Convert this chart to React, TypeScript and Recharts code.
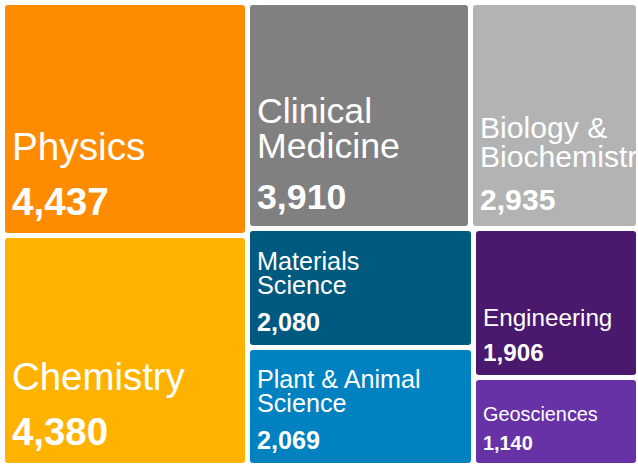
import React from "react"
import { Treemap } from "recharts"

const categories = [
  "Physics",
  "Chemistry",
  "Clinical Medicine",
  "Biology & Biochemistry",
  "Materials Science",
  "Plant & Animal Science",
  "Engineering",
  "Geosciences",
]
const values = [4437, 4380, 3910, 2935, 2080, 2069, 1906, 1140]
const colors = ["#ff8c00", "#ffb300", "#808080", "#b3b3b3", "#00597f", "#0082c1", "#4a196e", "#6632a6"]

const chartData = categories.map((name, i) => ({ name, size: values[i] }))

const FONT = '"Liberation Sans", Arial, sans-serif'
const GAP = 5

let ctx: CanvasRenderingContext2D | null = null
function textWidth(s: string, size: number) {
  if (!ctx) ctx = document.createElement("canvas").getContext("2d")
  if (!ctx) return s.length * size * 0.55
  ctx.font = `${size}px "Liberation Sans"`
  return ctx.measureText(s).width
}

function wrap(label: string, size: number, maxWidth: number) {
  const lines: string[] = []
  let line = ""
  label.split(" ").forEach((word) => {
    const next = line ? line + " " + word : word
    if (line && textWidth(next, size) > maxWidth) {
      lines.push(line)
      line = word
    } else {
      line = next
    }
  })
  if (line) lines.push(line)
  return lines
}

function CellContent(props: any) {
  const { x, y, width, height, depth, name } = props
  if (depth !== 1) return null
  const i = categories.indexOf(name)
  const value = values[i]
  const cx = x + GAP
  const cy = y + GAP
  const w = width - GAP
  const h = height - GAP
  // label size grows with the cell's value
  const fs = 0.97 * (13.75 + 0.0059 * value)
  const lines = wrap(name, fs, (w - 14) * 0.9)
  const valueY = cy + h - (8 + 0.25 * fs)
  const lastY = valueY - 1.44 * fs
  const clipId = `cell-clip-${i}`

  return (
    <g>
      <defs>
        <clipPath id={clipId}>
          <rect x={cx} y={cy} width={w} height={h} />
        </clipPath>
      </defs>
      <rect x={cx} y={cy} width={w} height={h} rx={3} ry={3} fill={colors[i]} />
      <g clipPath={`url(#${clipId})`} fill="#ffffff" fontFamily={FONT}>
        {lines.map((ln, k) => (
          <text key={k} x={cx + 7} y={lastY - (lines.length - 1 - k) * 0.97 * fs} fontSize={fs}>
            {ln}
          </text>
        ))}
        <text x={cx + 7} y={valueY} fontSize={fs} fontWeight="bold">
          {value.toLocaleString("en-US")}
        </text>
      </g>
    </g>
  )
}

export default function App() {
  return (
    <div style={{ position: "absolute", left: 0, top: 0, background: "#ffffff" }}>
      <Treemap
        width={636}
        height={463}
        data={chartData}
        dataKey="size"
        nameKey="name"
        aspectRatio={1.2}
        isAnimationActive={false}
        content={<CellContent />}
      />
    </div>
  )
}
